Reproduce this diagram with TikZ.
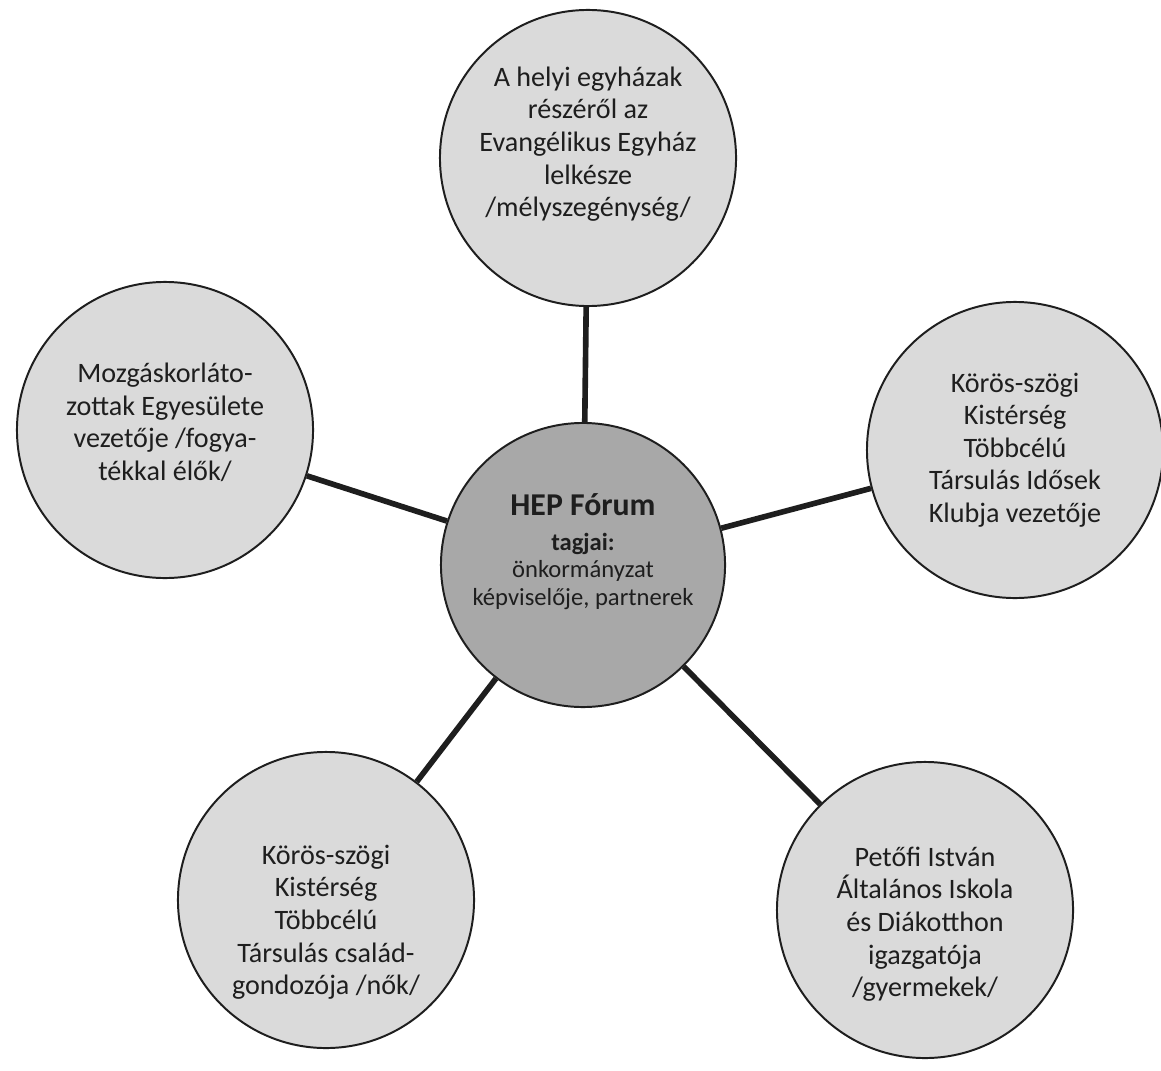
\documentclass[tikz,border=0pt]{standalone}
\usepackage{fontspec}
\setmainfont{Carlito}
\usetikzlibrary{positioning}
\definecolor{paper}{RGB}{255,255,255}
\definecolor{petal}{RGB}{218,218,218}
\definecolor{hub}{RGB}{168,168,168}
\definecolor{ink}{RGB}{30,30,30}
\tikzset{
  member/.style={circle,draw=ink,fill=petal,line width=1.4pt,minimum size=7.4cm,
    inner sep=0pt,align=center,font=\fontsize{20}{23.2}\selectfont,text=ink},
  centre/.style={circle,draw=ink,fill=hub,line width=1.4pt,minimum size=7.1cm,
    inner sep=0pt,align=center,font=\fontsize{17.5}{19.4}\selectfont,text=ink},
  spoke/.style={draw=ink,line width=4pt},
}

\begin{document}
\begin{tikzpicture}[x=0.025cm,y=-0.025cm]
    \useasboundingbox[fill=paper] (0,0) rectangle (1161,1070);
    \node[centre] (hep) at (583,565) {{\fontsize{22.6}{27}\selectfont\bfseries HEP Fórum}\\[0.2cm]\textbf{tagjai:}\\önkormányzat\\képviselője, partnerek\\[0.1cm]};
    \node[member] (egyhaz) at (588,158) {A helyi egyházak\\részéről az\\Evangélikus Egyház\\lelkésze\\/mélyszegénység/\\};
    \node[member] (fogyat) at (165,430) {Mozgáskorláto-\\zottak Egyesülete\\vezetője /fogya-\\tékkal élők/\\[-0.4cm]};
    \node[member] (idosek) at (1015,450) {Körös-szögi\\Kistérség\\Többcélú\\Társulás Idősek\\Klubja vezetője};
    \node[member] (nok) at (326,900) {Körös-szögi\\Kistérség\\Többcélú\\Társulás család-\\gondozója /nők/\\[-1.8cm]};
    \node[member] (gyerek) at (925,910) {Petőfi István\\Általános Iskola\\és Diákotthon\\igazgatója\\/gyermekek/\\[-1.4cm]};
    \foreach \n in {egyhaz,fogyat,idosek,nok,gyerek} \draw[spoke] (hep) -- (\n);
  \end{tikzpicture}
\end{document}
